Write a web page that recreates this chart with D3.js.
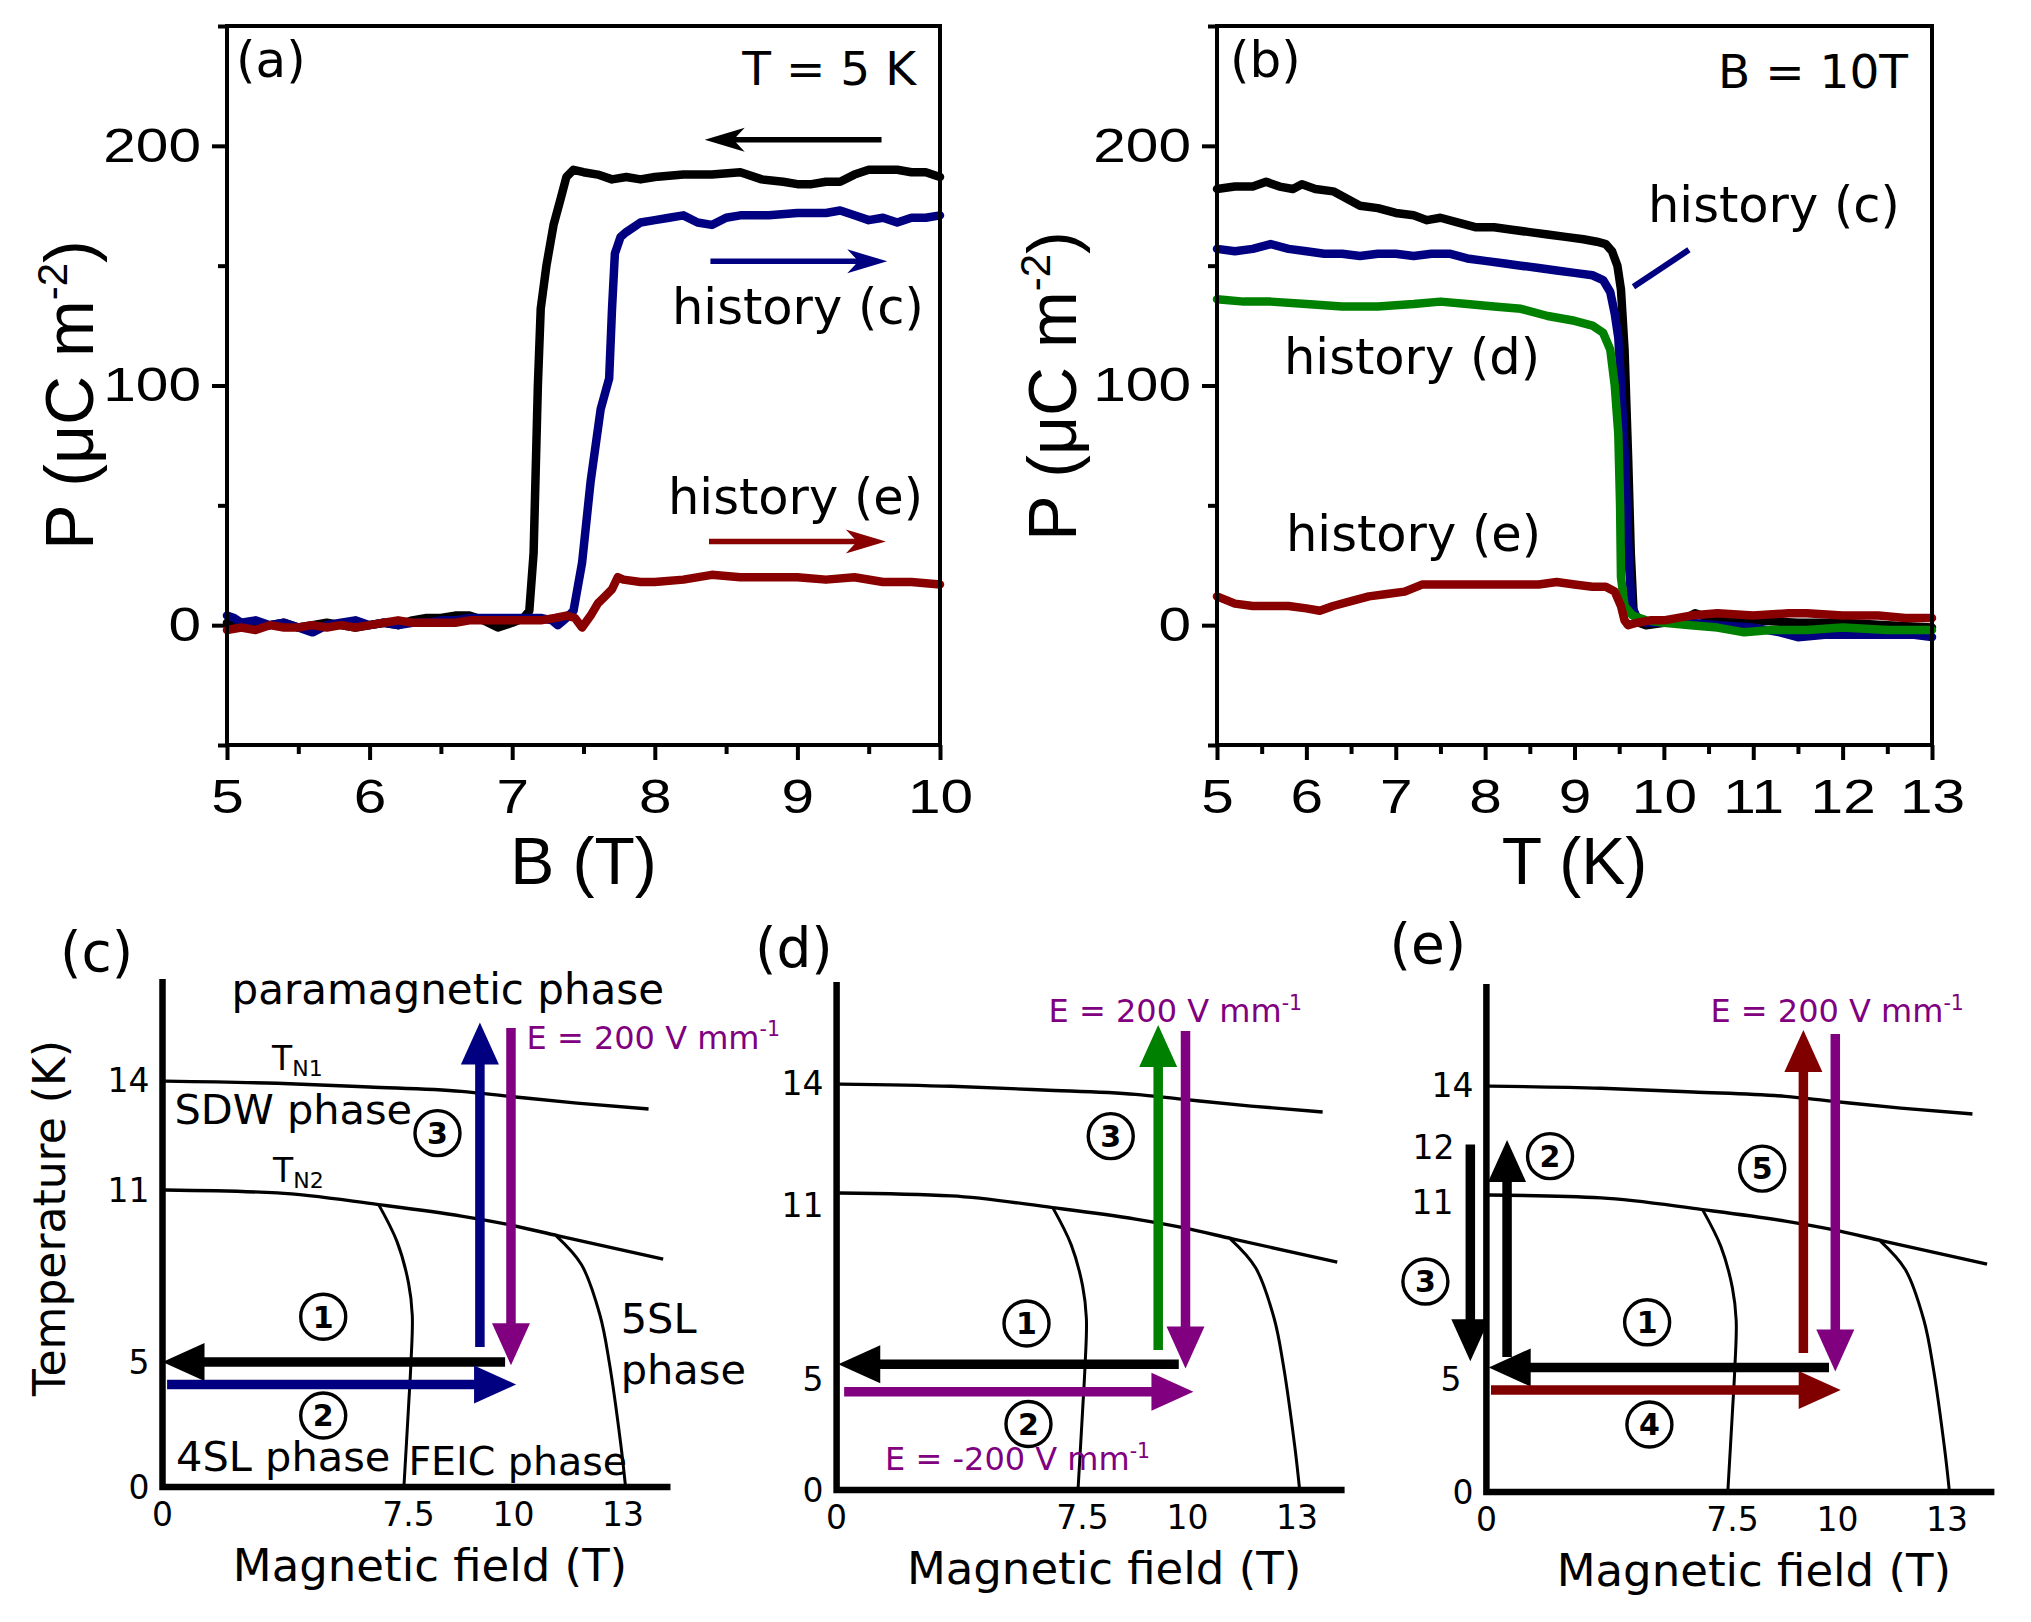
<!DOCTYPE html>
<html lang="en">
<head>
<meta charset="utf-8">
<title>Polarization history and phase diagram</title>
<script src="https://cdn.jsdelivr.net/npm/d3@7"></script>
<style>
  body { margin: 0; background: #fff; }
  svg { display: block; }
</style>
</head>
<body>
<script>
// ---------- panel (a): P vs B at T = 5 K ----------
var aBlack = [[5.0,1],[5.1,0],[5.2,-1],[5.3,0],[5.4,1],[5.5,-1],[5.6,0],[5.7,1],[5.8,0],[5.9,-1],[6.0,0],[6.1,1],[6.2,0],[6.3,2],[6.4,3],[6.5,3],[6.6,4],[6.7,4],[6.8,2],[6.9,-1],[7.0,1],[7.08,3],[7.12,6],[7.15,30],[7.18,100],[7.2,132],[7.24,150],[7.29,167],[7.34,178],[7.38,187],[7.43,190],[7.5,189],[7.6,188],[7.7,186],[7.8,187],[7.9,186],[8.0,187],[8.2,188],[8.4,188],[8.6,189],[8.75,186],[8.9,185],[9.0,184],[9.1,184],[9.2,185],[9.3,185],[9.4,188],[9.5,190],[9.6,190],[9.7,190],[9.8,189],[9.9,189],[10.0,187]];
var aBlue = [[5.0,4],[5.05,3],[5.1,1],[5.2,2],[5.3,0],[5.4,1],[5.5,-1],[5.6,-3],[5.7,0],[5.8,1],[5.9,2],[6.0,0],[6.1,1],[6.2,0],[6.3,1],[6.4,1],[6.5,2],[6.6,2],[6.7,3],[6.8,3],[6.9,3],[7.0,3],[7.1,3],[7.2,3],[7.28,2],[7.32,0],[7.38,3],[7.43,6],[7.49,26],[7.55,60],[7.62,90],[7.68,103],[7.7,132],[7.72,155],[7.76,162],[7.8,164],[7.9,168],[8.0,169],[8.1,170],[8.2,171],[8.3,168],[8.4,167],[8.5,170],[8.6,171],[8.8,171],[9.0,172],[9.2,172],[9.3,173],[9.4,171],[9.5,169],[9.6,170],[9.7,168],[9.8,170],[9.9,170],[10.0,171]];
var aRed = [[5.0,-2],[5.1,-1],[5.2,-2],[5.3,0],[5.4,-1],[5.5,-1],[5.6,0],[5.7,-1],[5.8,0],[5.9,-1],[6.0,0],[6.1,1],[6.2,2],[6.3,1],[6.4,1],[6.5,1],[6.6,1],[6.7,2],[6.8,2],[6.9,2],[7.0,2],[7.1,2],[7.2,2],[7.3,3],[7.38,4],[7.44,3],[7.49,-1],[7.55,4],[7.6,9],[7.65,12],[7.7,15],[7.74,20],[7.78,19],[7.9,18],[8.0,18],[8.2,19],[8.4,21],[8.6,20],[8.8,20],[9.0,20],[9.2,19],[9.4,20],[9.6,18],[9.8,18],[10.0,17]];
var aArrows = [{from:[9.59,202.5], to:[8.35,202.5]}, {from:[8.39,151.8], to:[9.63,151.8]}, {from:[8.38,34.9], to:[9.62,34.9]}];
var aXMajor = [5,6,7,8,9,10];
var aXMinor = [5.5,6.5,7.5,8.5,9.5];

// ---------- panel (b): P vs T at B = 10 T ----------
var bBlack = [[5.0,182],[5.2,183],[5.4,183],[5.55,185],[5.7,183],[5.85,182],[5.95,184],[6.1,182],[6.3,181],[6.45,178],[6.6,175],[6.8,174],[7.0,172],[7.2,171],[7.35,169],[7.5,170],[7.7,168],[7.9,166],[8.1,166],[8.3,165],[8.5,164],[8.7,163],[8.9,162],[9.1,161],[9.25,160],[9.35,159],[9.42,156],[9.48,150],[9.52,140],[9.56,115],[9.6,70],[9.63,30],[9.66,6],[9.72,1],[9.8,0],[10.0,1],[10.2,2],[10.35,5],[10.5,3],[11.0,2],[11.5,1],[12.0,1],[12.5,0],[13.0,-1]];
var bBlue = [[5.0,157],[5.2,156],[5.4,157],[5.6,159],[5.8,157],[6.0,156],[6.2,155],[6.4,155],[6.6,154],[6.8,155],[7.0,155],[7.2,154],[7.4,155],[7.6,155],[7.8,153],[8.0,152],[8.2,151],[8.4,150],[8.6,149],[8.8,148],[9.0,147],[9.2,146],[9.32,144],[9.4,139],[9.45,130],[9.49,120],[9.53,95],[9.57,65],[9.61,25],[9.64,8],[9.7,3],[9.8,1],[10.0,1],[10.3,1],[10.6,0],[11.0,-1],[11.3,-3],[11.5,-5],[11.8,-4],[12.0,-4],[12.5,-4],[12.8,-4],[13.0,-5]];
var bGreen = [[5.0,136],[5.3,135],[5.6,135],[6.0,134],[6.4,133],[6.8,133],[7.2,134],[7.5,135],[7.8,134],[8.1,133],[8.4,132],[8.7,129],[9.0,127],[9.2,125],[9.32,122],[9.4,115],[9.45,100],[9.49,80],[9.51,50],[9.52,20],[9.56,8],[9.65,4],[9.8,2],[10.0,1],[10.3,0],[10.6,-1],[10.9,-3],[11.2,-2],[11.6,-2],[12.0,-1],[12.5,-2],[13.0,-2]];
var bRed = [[5.0,12],[5.2,9],[5.4,8],[5.6,8],[5.8,8],[6.0,7],[6.15,6],[6.3,8],[6.5,10],[6.7,12],[6.9,13],[7.1,14],[7.3,17],[7.5,17],[7.8,17],[8.0,17],[8.3,17],[8.6,17],[8.8,18],[9.0,17],[9.2,16],[9.35,16],[9.45,14],[9.52,8],[9.56,2],[9.6,0],[9.7,1],[9.85,2],[10.0,2],[10.3,4],[10.6,5],[11.0,4],[11.4,5],[11.6,5],[12.0,4],[12.4,4],[12.7,3],[13.0,3]];
var bPointer = [[9.66,141.2],[10.28,156.6]];
var bXMajor = [5,6,7,8,9,10,11,12,13];
var bXMinor = [5.5,6.5,7.5,8.5,9.5,10.5,11.5,12.5];

var pYMajor = [0,100,200];
var pYMinor = [-50,50,150,250];

// ---------- panels (c)-(e): schematic phase diagram (field T, temperature K) ----------
var fieldTicks = [0,7.5,10,13];
var tempTicksCD = [0,5,11,14];
var tempTicksE = [0,5,11,12,14];
var tN1 = [[0.08,13.97],[3.5,13.91],[6.3,13.81],[8.76,13.69],[9.86,13.56],[11.74,13.37],[13.7,13.21]];
var tN2 = [[0.08,11.0],[3.5,10.9],[6.59,10.49],[8.76,10.09],[9.86,9.8],[11.23,9.4],[14.1,8.59]];
var boundary4SL = [[6.59,10.49],[7.15,9.2],[7.5,7.76],[7.59,6.63],[7.56,5.02],[7.5,3.18],[7.36,0]];
var boundary5SL = [[11.17,9.4],[11.86,8.4],[12.37,6.63],[12.62,5.02],[12.94,1.7],[13.07,0]];

var arrowsC = [{from:[9.8,5.0], to:[0.0,5.0]}, {from:[0.14,4.1], to:[10.07,4.1]}, {from:[9.2,5.52], to:[9.2,15.57]}, {from:[9.94,15.42], to:[9.94,4.87]}];
var arrowsD = [{from:[9.79,5.03], to:[0.05,5.03]}, {from:[0.23,3.93], to:[10.16,3.93]}, {from:[9.3,5.52], to:[9.3,15.58]}, {from:[9.95,15.42], to:[9.95,4.86]}];
var arrowsE = [{from:[9.8,4.98], to:[0.07,4.98]}, {from:[0.14,4.08], to:[10.09,4.08]}, {from:[-0.49,12.38], to:[-0.49,5.2]}, {from:[0.63,5.35], to:[0.63,12.5]}, {from:[9.19,5.49], to:[9.19,15.5]}, {from:[9.95,15.39], to:[9.95,4.82]}];
var arrowColorsC = ["#000000","#000080","#000080","#800080"];
var arrowColorsD = ["#000000","#800080","#008000","#800080"];
var arrowColorsE = ["#000000","#800000","#000000","#000000","#800000","#800080"];

var stepsC = [{n:"1", at:[4.9,6.58]}, {n:"2", at:[4.9,2.86]}, {n:"3", at:[8.19,12.55]}];
var stepsD = [{n:"1", at:[5.79,6.45]}, {n:"2", at:[5.85,2.64]}, {n:"3", at:[8.17,12.55]}];
var stepsE = [{n:"1", at:[4.9,6.56]}, {n:"2", at:[1.94,12.06]}, {n:"3", at:[-1.86,7.98]}, {n:"4", at:[4.97,2.7]}, {n:"5", at:[8.21,11.72]}];

var W = 2031, H = 1622;
var svg = d3.select("body").append("svg")
  .attr("width", W).attr("height", H)
  .attr("font-family", "'DejaVu Sans', sans-serif");

var ARIAL = "'Liberation Sans', Arial, sans-serif";

function drawArrow(g, x1, y1, x2, y2, color, sw, hl, hw, notch) {
  var dx = x2 - x1, dy = y2 - y1, len = Math.hypot(dx, dy);
  var ux = dx / len, uy = dy / len, nx = -uy, ny = ux;
  var bx = x2 - ux * hl, by = y2 - uy * hl;
  var ix = x2 - ux * hl * notch, iy = y2 - uy * hl * notch;
  g.append("line")
    .attr("x1", x1).attr("y1", y1).attr("x2", ix + ux * 1).attr("y2", iy + uy * 1)
    .attr("stroke", color).attr("stroke-width", sw);
  g.append("path")
    .attr("d", "M" + x2 + "," + y2 + "L" + (bx + nx * hw) + "," + (by + ny * hw) +
               "L" + ix + "," + iy + "L" + (bx - nx * hw) + "," + (by - ny * hw) + "Z")
    .attr("fill", color);
}

function supText(g, x, y, size, main, sup, color) {
  var t = g.append("text").attr("x", x).attr("y", y).attr("font-size", size).attr("fill", color);
  t.append("tspan").text(main);
  t.append("tspan").attr("dy", -size * 0.38).attr("font-size", size * 0.64).text(sup);
  return t;
}

// ---------- top panels ----------
function topPanel(o) {
  var top = 26, bottom = 745;
  var x = d3.scaleLinear().domain(o.xDomain).range([o.left, o.right]);
  var y = d3.scaleLinear().domain([-50, 250]).range([bottom, top]);
  var g = svg.append("g");

  function styleAxis(sel) {
    sel.select(".domain").remove();
    sel.selectAll(".tick line").attr("stroke", "#000").attr("stroke-width", 4);
    sel.attr("font-family", ARIAL).attr("font-size", 48);
    sel.selectAll(".tick text").attr("fill", "#000");
  }

  var gx = g.append("g").attr("transform", "translate(0," + bottom + ")")
    .call(d3.axisBottom(x).tickValues(o.xMajor).tickSize(15).tickPadding(19).tickFormat(d3.format("d")));
  styleAxis(gx);
  gx.selectAll(".tick text").attr("transform", "scale(1.22,1)");
  var gx2 = g.append("g").attr("transform", "translate(0," + bottom + ")")
    .call(d3.axisBottom(x).tickValues(o.xMinor).tickSize(9).tickFormat(""));
  styleAxis(gx2);

  var gy = g.append("g").attr("transform", "translate(" + o.left + ",0)")
    .call(d3.axisLeft(y).tickValues(pYMajor).tickSize(15).tickPadding(11).tickFormat(d3.format("d")));
  styleAxis(gy);
  gy.selectAll(".tick text").attr("x", -26 / 1.22).attr("transform", "scale(1.22,1)");
  var gy2 = g.append("g").attr("transform", "translate(" + o.left + ",0)")
    .call(d3.axisLeft(y).tickValues(pYMinor).tickSize(9).tickFormat(""));
  styleAxis(gy2);

  var line = d3.line().x(function (d) { return x(d[0]); }).y(function (d) { return y(d[1]); });
  o.series.forEach(function (s, i) {
    g.append("path").attr("d", line(s)).attr("fill", "none")
      .attr("stroke", o.colors[i]).attr("stroke-width", 8.5)
      .attr("stroke-linejoin", "round").attr("stroke-linecap", "round");
  });

  g.append("rect").attr("x", o.left).attr("y", top)
    .attr("width", o.right - o.left).attr("height", bottom - top)
    .attr("fill", "none").attr("stroke", "#000").attr("stroke-width", 4);

  (o.arrows || []).forEach(function (a, i) {
    drawArrow(g, x(a.from[0]), y(a.from[1]), x(a.to[0]), y(a.to[1]), o.arrowColors[i], 5.5, 40, 12, 0.72);
  });
  if (o.pointer) {
    g.append("line").attr("x1", x(o.pointer[0][0])).attr("y1", y(o.pointer[0][1]))
      .attr("x2", x(o.pointer[1][0])).attr("y2", y(o.pointer[1][1]))
      .attr("stroke", "#000080").attr("stroke-width", 6);
  }

  g.append("text").attr("x", o.label[1]).attr("y", 76.5).attr("font-size", 50).text(o.label[0]);
  g.append("text").attr("x", o.right - 24).attr("y", o.condY).attr("font-size", 47)
    .attr("text-anchor", "end").text(o.cond);
  o.notes.forEach(function (n) {
    g.append("text").attr("x", n[1]).attr("y", n[2]).attr("font-size", 49.5).text(n[0]);
  });

  g.append("text").attr("x", (o.left + o.right) / 2).attr("y", 884)
    .attr("font-family", ARIAL).attr("font-size", 66).attr("text-anchor", "middle").text(o.xTitle);

  var yt = g.append("text").attr("font-family", ARIAL).attr("font-size", 68)
    .attr("text-anchor", "middle")
    .attr("transform", "translate(" + o.yTitleX + "," + o.yTitleY + ") rotate(-90)");
  yt.append("tspan").text("P (\u03bcC m");
  yt.append("tspan").attr("dy", -26).attr("font-size", 42).text("-2");
  yt.append("tspan").attr("dy", 26).text(")");
}

topPanel({
  left: 227, right: 940, xDomain: [5, 10], xMajor: aXMajor, xMinor: aXMinor,
  series: [aBlack, aBlue, aRed], colors: ["#000000", "#000080", "#880000"],
  arrows: aArrows, arrowColors: ["#000000", "#000080", "#880000"],
  label: ["(a)", 236], cond: "T = 5 K", condY: 85,
  notes: [["history (c)", 672, 324], ["history (e)", 668, 514]],
  xTitle: "B (T)", yTitleX: 93, yTitleY: 395
});
topPanel({
  left: 1217, right: 1932, xDomain: [5, 13], xMajor: bXMajor, xMinor: bXMinor,
  series: [bBlack, bBlue, bGreen, bRed], colors: ["#000000", "#000080", "#008000", "#880000"],
  pointer: bPointer,
  label: ["(b)", 1230], cond: "B = 10T", condY: 88,
  notes: [["history (c)", 1648, 221.5], ["history (d)", 1284, 374], ["history (e)", 1286, 551]],
  xTitle: "T (K)", yTitleX: 1076, yTitleY: 386
});

// ---------- bottom panels ----------
function phasePanel(o) {
  var x0 = o.x0, y0 = o.y0;
  var x = d3.scaleLinear().domain(fieldTicks).range([x0, x0 + 246, x0 + 351, x0 + 460.5]);
  var y = d3.scaleLinear().domain([0, 5, 11, 14]).range([y0, y0 - 125, y0 - 297, y0 - 407]);
  var shift = o.tickShift || {};
  var g = svg.append("g");

  var line = d3.line().x(function (d) { return x(d[0]); }).y(function (d) { return y(d[1]); });
  g.append("path").attr("d", line.curve(d3.curveMonotoneX)(tN1)).attr("fill", "none").attr("stroke", "#000").attr("stroke-width", 3.4);
  g.append("path").attr("d", line.curve(d3.curveMonotoneX)(tN2)).attr("fill", "none").attr("stroke", "#000").attr("stroke-width", 3.4);
  g.append("path").attr("d", line.curve(d3.curveCatmullRom)(boundary4SL)).attr("fill", "none").attr("stroke", "#000").attr("stroke-width", 3);
  g.append("path").attr("d", line.curve(d3.curveCatmullRom)(boundary5SL)).attr("fill", "none").attr("stroke", "#000").attr("stroke-width", 3);

  g.append("path").attr("d", "M" + x0 + "," + (y0 - 508) + "V" + y0 + "H" + (x0 + 508))
    .attr("fill", "none").attr("stroke", "#000").attr("stroke-width", 6.5);

  g.selectAll(".yl").data(o.yTicks).enter().append("text")
    .attr("x", function (d) { return x0 - 13 + (shift[d] ? shift[d][0] : 0); })
    .attr("y", function (d) { return y(d) + (shift[d] ? shift[d][1] : 0); }).attr("dy", "0.36em")
    .attr("text-anchor", "end").attr("font-size", 33).text(function (d) { return d; });
  g.selectAll(".xl").data(fieldTicks).enter().append("text")
    .attr("x", function (d) { return x(d); }).attr("y", y0 + 39)
    .attr("text-anchor", "middle").attr("font-size", 33).text(function (d) { return d; });

  o.arrows.forEach(function (a, i) {
    drawArrow(g, x(a.from[0]), y(a.from[1]), x(a.to[0]), y(a.to[1]), o.colors[i], 9.5, 42, 19, 1);
  });

  o.steps.forEach(function (s) {
    g.append("circle").attr("cx", x(s.at[0])).attr("cy", y(s.at[1])).attr("r", 22.5)
      .attr("fill", "#fff").attr("stroke", "#000").attr("stroke-width", 3.4);
    g.append("text").attr("x", x(s.at[0])).attr("y", y(s.at[1])).attr("dy", "0.36em")
      .attr("text-anchor", "middle").attr("font-size", 30).attr("font-weight", "bold").text(s.n);
  });

  g.append("text").attr("x", x0 + o.labelDx).attr("y", y0 + o.labelDy).attr("font-size", 55).text(o.label);
  g.append("text").attr("x", x0 + 267.5).attr("y", y0 + 94).attr("font-size", 45)
    .attr("text-anchor", "middle").text("Magnetic field (T)");
  o.fields.forEach(function (f) {
    supText(g, x0 + f[1], y0 + f[2], 32, f[0], "-1", "#800080");
  });
  return g;
}

var gc = phasePanel({ x0: 162.5, y0: 1487, yTicks: tempTicksCD, arrows: arrowsC, colors: arrowColorsC, steps: stepsC,
  label: "(c)", labelDx: -102.5, labelDy: -516, fields: [["E = 200 V mm", 364, -438.4]] });
phasePanel({ x0: 836.6, y0: 1490, yTicks: tempTicksCD, arrows: arrowsD, colors: arrowColorsD, steps: stepsD,
  tickShift: { 11: [0, 12], 5: [0, 14] },
  label: "(d)", labelDx: -81.6, labelDy: -523.5, fields: [["E = 200 V mm", 212, -467.7], ["E = -200 V mm", 48.5, -20]] });
phasePanel({ x0: 1486.4, y0: 1492, yTicks: tempTicksE, arrows: arrowsE, colors: arrowColorsE, steps: stepsE,
  tickShift: { 12: [-19, -11], 11: [-20, 7], 5: [-12, 12] },
  label: "(e)", labelDx: -96.9, labelDy: -529, fields: [["E = 200 V mm", 224, -469.7]] });

// phase names and transition labels in (c)
var cx0 = 162.5, cy0 = 1487;
[["paramagnetic phase", 69, -483.2, 42], ["SDW phase", 11.9, -363.2, 41.5], ["4SL phase", 13.5, -15.7, 41.5],
 ["FEIC phase", 245.9, -12.5, 39.5], ["5SL", 458.2, -154.2, 41.5], ["phase", 458.2, -103.4, 41.5]].forEach(function (p) {
  gc.append("text").attr("x", cx0 + p[1]).attr("y", cy0 + p[2]).attr("font-size", p[3]).text(p[0]);
});
[["N1", 109.5, -417.2], ["N2", 110.5, -304.6]].forEach(function (p) {
  var t = gc.append("text").attr("x", cx0 + p[1]).attr("y", cy0 + p[2]).attr("font-size", 33);
  t.append("tspan").text("T");
  t.append("tspan").attr("dy", 6).attr("font-size", 22).text(p[0]);
});
gc.append("text").attr("font-size", 44).attr("text-anchor", "middle")
  .attr("transform", "translate(" + (cx0 - 97.9) + "," + (cy0 - 269) + ") rotate(-90)")
  .text("Temperature (K)");
</script>
</body>
</html>
